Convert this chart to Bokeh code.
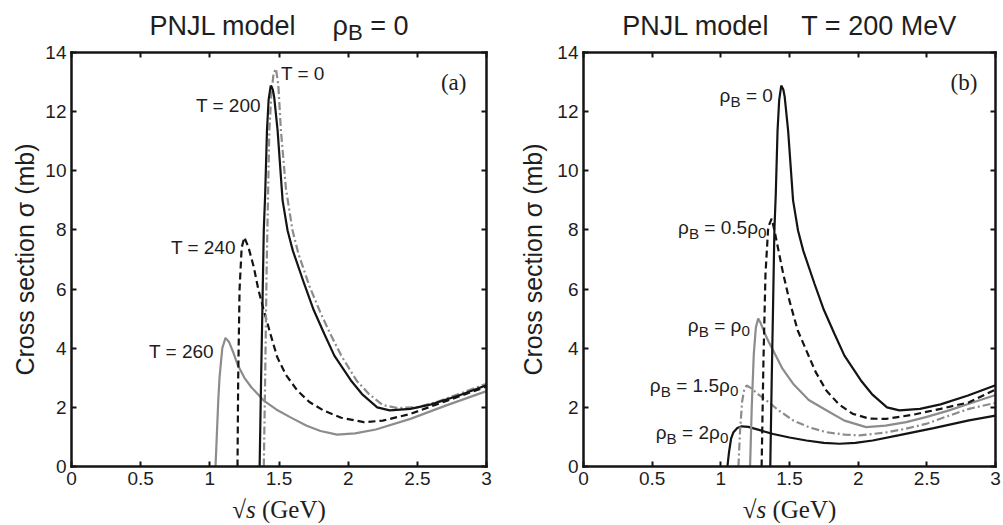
import math
from bokeh.plotting import figure
from bokeh.models import Range1d, LinearAxis, FixedTicker, Label
from bokeh.layouts import row
from bokeh.embed import file_html
from bokeh.resources import INLINE

# ---------------- data ----------------
x_ticks = [0, 0.5, 1, 1.5, 2, 2.5, 3]
x_tick_labels = ["0", "0.5", "1", "1.5", "2", "2.5", "3"]
y_ticks = [0, 2, 4, 6, 8, 10, 12, 14]
y_tick_labels = ["0", "2", "4", "6", "8", "10", "12", "14"]

# panel (a): rho_B = 0, various T (MeV)
a_T0_x = [1.39, 1.40, 1.41, 1.42, 1.43, 1.445, 1.461, 1.478, 1.495, 1.514, 1.55, 1.598, 1.64, 1.72,
          1.80, 1.87, 1.95, 2.06, 2.15, 2.25, 2.35, 2.50, 2.65, 2.80, 3.00]
a_T0_y = [0, 3.0, 6.5, 9.0, 11.36, 12.6, 13.3, 13.45, 12.9, 11.36, 9.4, 7.98, 7.2, 6.1,
          5.2, 4.49, 3.75, 2.91, 2.45, 2.08, 1.98, 2.0, 2.2, 2.45, 2.8]

a_T200_x = [1.36, 1.37, 1.381, 1.39, 1.40, 1.413, 1.425, 1.44, 1.455, 1.465, 1.49, 1.526, 1.562, 1.60,
            1.682, 1.75, 1.827, 1.90, 2.02, 2.10, 2.21, 2.30, 2.45, 2.60, 2.80, 3.00]
a_T200_y = [0, 2.8, 5.6, 8.0, 9.2, 11.36, 12.4, 12.88, 12.75, 12.5, 11.36, 9.0, 7.98, 7.3,
            6.18, 5.3, 4.49, 3.75, 2.91, 2.45, 2.0, 1.9, 1.95, 2.1, 2.4, 2.75]

a_T240_x = [1.200, 1.205, 1.215, 1.23, 1.25, 1.28, 1.318, 1.35, 1.39, 1.44, 1.487, 1.55, 1.632,
            1.72, 1.824, 1.95, 2.113, 2.25, 2.451, 2.70, 3.00]
a_T240_y = [0, 3.0, 6.0, 7.4, 7.75, 7.4, 6.74, 6.0, 5.28, 4.45, 3.70, 3.1, 2.57,
            2.18, 1.89, 1.65, 1.50, 1.55, 1.78, 2.2, 2.7]

a_T260_x = [1.041, 1.05, 1.061, 1.07, 1.09, 1.113, 1.14, 1.17, 1.20, 1.25, 1.30, 1.39, 1.48, 1.58,
            1.70, 1.80, 1.92, 2.05, 2.20, 2.45, 2.70, 3.00]
a_T260_y = [0, 1.0, 2.23, 3.0, 4.0, 4.35, 4.2, 3.85, 3.45, 3.0, 2.68, 2.23, 1.93, 1.67,
            1.38, 1.2, 1.08, 1.12, 1.25, 1.61, 2.05, 2.55]

# panel (b): T = 200 MeV, various rho_B
b_r0_x = a_T200_x
b_r0_y = a_T200_y

b_r05_x = [1.297, 1.31, 1.325, 1.345, 1.370, 1.39, 1.42, 1.454, 1.50, 1.56, 1.623, 1.69, 1.768,
           1.86, 1.961, 2.08, 2.203, 2.40, 2.60, 2.807, 3.00]
b_r05_y = [0, 3.5, 6.5, 8.1, 8.38, 8.0, 7.3, 6.52, 5.6, 4.6, 3.92, 3.2, 2.57,
           2.1, 1.78, 1.62, 1.61, 1.75, 1.95, 2.17, 2.6]

b_r1_x = [1.213, 1.225, 1.24, 1.255, 1.272, 1.29, 1.32, 1.35, 1.381, 1.45, 1.526, 1.64, 1.768,
          1.90, 2.058, 2.20, 2.35, 2.493, 2.65, 2.807, 3.00]
b_r1_y = [0, 2.0, 3.8, 4.7, 5.0, 4.85, 4.5, 4.2, 3.92, 3.3, 2.8, 2.25, 1.9,
          1.55, 1.33, 1.38, 1.5, 1.67, 1.88, 2.12, 2.42]

b_r15_x = [1.128, 1.14, 1.155, 1.17, 1.188, 1.22, 1.27, 1.333, 1.42, 1.526, 1.64, 1.768, 1.90,
           2.009, 2.20, 2.35, 2.493, 2.65, 2.807, 3.00]
b_r15_y = [0, 1.2, 2.2, 2.6, 2.74, 2.65, 2.45, 2.23, 1.9, 1.56, 1.33, 1.16, 1.08,
           1.05, 1.15, 1.28, 1.44, 1.7, 1.95, 2.15]

b_r2_x = [1.048, 1.06, 1.075, 1.092, 1.12, 1.152, 1.20, 1.29, 1.381, 1.50, 1.623, 1.75, 1.864,
          1.98, 2.106, 2.30, 2.55, 2.807, 3.00]
b_r2_y = [0, 0.5, 0.95, 1.16, 1.3, 1.36, 1.34, 1.22, 1.10, 0.98, 0.88, 0.8, 0.77,
          0.8, 0.88, 1.06, 1.3, 1.56, 1.72]

# ---------------- style / geometry ----------------
SANS = "Liberation Sans"
SERIF = "Liberation Serif"
TXT = "#1e1e1e"
BLACK = "#141414"
GREY = "#8c8c8c"
BOX_H = 414            # px height of the 0..14 box
TOP_PAD = 52           # px above the box
BOT_PAD = 57           # px below the box
PXY = BOX_H / 14.0

SANS_W = {' ': 278, '=': 584, '.': 278, 'B': 667, 'T': 611, 'P': 667, 'N': 722, 'J': 500, 'L': 556,
          'M': 833, 'V': 667, 'm': 833, 'o': 556, 'd': 556, 'e': 556, 'l': 222, 'ρ': 577}
SERIF_W = {'√': 549, 's': 389, ' ': 250, '(': 333, ')': 333, 'G': 722, 'e': 444, 'V': 722}


def tw(s, size, table):
    return sum(table.get(c, 556) for c in s) * size / 1000.0


def rich(p, x, y, pieces, size, align="left", font=SANS, table=SANS_W,
         sub_scale=0.8, sub_shift=6, gaps=None):
    """pieces: list of (text, kind), kind 'n' normal, 's' subscript, 'i' italic.
    y is the vertical middle of the normal text."""
    sizes = [size * sub_scale if k == 's' else size for _, k in pieces]
    widths = [tw(t, s, table) for (t, _), s in zip(pieces, sizes)]
    if gaps is None:
        gaps = [0] * len(pieces)
    total = sum(widths) + sum(gaps)
    cur = {"left": 0, "right": -total, "center": -total / 2}[align]
    for (t, k), s, w, g in zip(pieces, sizes, widths, gaps):
        cur += g
        lead = len(t) - len(t.lstrip(" "))
        shift = tw(" " * lead, s, table)
        yy = y - (sub_shift / PXY if k == 's' else 0)
        p.add_layout(Label(x=x, y=yy, x_offset=cur + shift, text=t.strip(" "), text_font=font,
                           text_font_size=f"{s:.1f}px",
                           text_font_style="italic" if k == 'i' else "normal",
                           text_color=TXT, text_align="left", text_baseline="middle"))
        cur += w


def base_axis(ax, ticks):
    ax.ticker = FixedTicker(ticks=ticks)
    ax.major_tick_in = 5
    ax.major_tick_out = 0
    ax.minor_tick_in = 0
    ax.minor_tick_out = 0
    ax.axis_line_width = 2.5
    ax.axis_line_color = BLACK
    ax.axis_line_cap = "square"
    ax.major_tick_line_width = 2
    ax.major_tick_line_color = BLACK
    ax.major_label_text_font = SANS
    ax.major_label_text_font_size = "19px"
    ax.major_label_text_color = TXT
    ax.major_label_standoff = 5


def make_fig(left_pad, box_w, right_pad, ylabel_dx):
    pxx = box_w / 3.0
    p = figure(frame_width=left_pad + box_w + right_pad, frame_height=TOP_PAD + BOX_H + BOT_PAD,
               min_border=0, min_border_left=0, min_border_right=0, min_border_top=0,
               min_border_bottom=0,
               x_range=Range1d(-left_pad / pxx, 3 + right_pad / pxx),
               y_range=Range1d(-BOT_PAD / PXY, 14 + TOP_PAD / PXY),
               x_axis_location=None, y_axis_location=None,
               output_backend="svg", toolbar_location=None)
    p.xgrid.visible = False
    p.ygrid.visible = False
    p.outline_line_color = None
    p.background_fill_color = "white"
    p.border_fill_color = "white"

    left = LinearAxis(fixed_location=0)
    base_axis(left, y_ticks)
    left.bounds = (0, 14)
    left.major_label_overrides = {float(t): l for t, l in zip(y_ticks, y_tick_labels)}
    p.add_layout(left, "left")

    bottom = LinearAxis(fixed_location=0)
    base_axis(bottom, x_ticks)
    bottom.bounds = (0, 3)
    bottom.major_label_overrides = {float(t): l for t, l in zip(x_ticks, x_tick_labels)}
    p.add_layout(bottom, "below")

    top = LinearAxis(fixed_location=14)
    base_axis(top, x_ticks)
    top.bounds = (0, 3)
    top.major_label_overrides = {float(t): "" for t in x_ticks}
    p.add_layout(top, "above")

    right = LinearAxis(fixed_location=3)
    base_axis(right, y_ticks)
    right.bounds = (0, 14)
    right.major_label_overrides = {float(t): "" for t in y_ticks}
    p.add_layout(right, "right")

    # y axis label (rotated)
    p.add_layout(Label(x=ylabel_dx / pxx, y=7.0, text="Cross section σ (mb)", angle=math.pi / 2,
                       text_font=SANS, text_font_size="25px", text_color=TXT,
                       text_align="center", text_baseline="middle"))
    # x axis label: sqrt(s) (GeV) in serif
    rich(p, 1.5, -1.45, [("√", 'n'), ("s", 'i'), (" (GeV)", 'n')], 25,
         align="center", font=SERIF, table=SERIF_W)
    return p


LW = 2.2

# ---------------- panel (a) ----------------
pa = make_fig(71, 415, 25, -46.5)
pa.line(a_T260_x, a_T260_y, line_color=GREY, line_width=LW)
pa.line(a_T240_x, a_T240_y, line_color=BLACK, line_width=LW, line_dash="7 4")
pa.line(a_T0_x, a_T0_y, line_color=GREY, line_width=LW, line_dash="8 3 2 3")
pa.line(a_T200_x, a_T200_y, line_color=BLACK, line_width=LW)

rich(pa, 1.5, 14.9, [("PNJL model", 'n'), ("ρ", 'n'), ("B", 's'), (" = 0", 'n')], 27,
     align="center", sub_scale=0.82, sub_shift=7, gaps=[0, 36, 0, 0])
rich(pa, 1.514, 13.28, [("T = 0", 'n')], 19, align="left")
rich(pa, 1.369, 12.21, [("T = 200", 'n')], 19, align="right")
rich(pa, 1.188, 7.39, [("T = 240", 'n')], 19, align="right")
rich(pa, 1.03, 3.89, [("T = 260", 'n')], 19, align="right")
pa.add_layout(Label(x=2.763, y=12.99, text="(a)", text_font=SERIF, text_font_size="23px",
                    text_color=TXT, text_align="center", text_baseline="middle"))

# ---------------- panel (b) ----------------
pb = make_fig(72, 412, 6, -51)
pb.line(b_r2_x, b_r2_y, line_color=BLACK, line_width=LW)
pb.line(b_r15_x, b_r15_y, line_color=GREY, line_width=LW, line_dash="8 3 2 3")
pb.line(b_r1_x, b_r1_y, line_color=GREY, line_width=LW)
pb.line(b_r05_x, b_r05_y, line_color=BLACK, line_width=LW, line_dash="7 4")
pb.line(b_r0_x, b_r0_y, line_color=BLACK, line_width=LW)

rich(pb, 1.5, 14.9, [("PNJL model", 'n'), ("T = 200 MeV", 'n')], 27,
     align="center", gaps=[0, 32])
rich(pb, 1.379, 12.55, [("ρ", 'n'), ("B", 's'), (" = 0", 'n')], 19, align="right")
rich(pb, 1.333, 8.09, [("ρ", 'n'), ("B", 's'), (" = 0.5ρ", 'n'), ("0", 's')], 19, align="right")
rich(pb, 1.212, 4.77, [("ρ", 'n'), ("B", 's'), (" = ρ", 'n'), ("0", 's')], 19, align="right")
rich(pb, 1.128, 2.74, [("ρ", 'n'), ("B", 's'), (" = 1.5ρ", 'n'), ("0", 's')], 19, align="right")
rich(pb, 1.055, 1.16, [("ρ", 'n'), ("B", 's'), (" = 2ρ", 'n'), ("0", 's')], 19, align="right")
pb.add_layout(Label(x=2.77, y=12.99, text="(b)", text_font=SERIF, text_font_size="23px",
                    text_color=TXT, text_align="center", text_baseline="middle"))

layout = row(pa, pb)
open("out.html", "w").write(file_html(layout, INLINE))
